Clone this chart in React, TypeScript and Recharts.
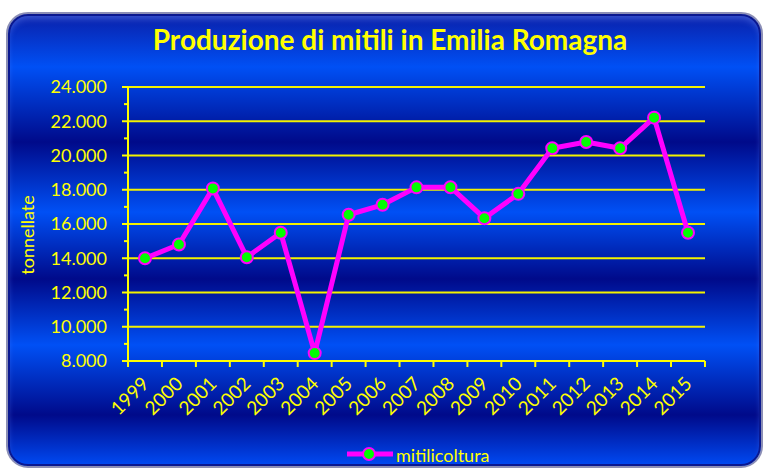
import { LineChart, Line, XAxis, YAxis, CartesianGrid, Legend } from 'recharts';

const YEL = '#ffff00';
const FONT = 'Lato, "Open Sans", sans-serif';

const years = ['1999', '2000', '2001', '2002', '2003', '2004', '2005', '2006', '2007', '2008', '2009', '2010', '2011', '2012', '2013', '2014', '2015'];
const tonnes = [14000, 14800, 18080, 14060, 15490, 8460, 16540, 17120, 18140, 18150, 16340, 17760, 20420, 20790, 20420, 22210, 15490];
const yTicks = [8000, 9000, 10000, 11000, 12000, 13000, 14000, 15000, 16000, 17000, 18000, 19000, 20000, 21000, 22000, 23000, 24000];
const gridValues = [10000, 12000, 14000, 16000, 18000, 20000, 22000, 24000];

const data = years.map((year, i) => ({ year, mitilicoltura: tonnes[i] }));

const fmt = (v: number) => String(v).replace(/\B(?=(\d{3})+(?!\d))/g, '.');

function YTick(props: any) {
  const { x, y, payload } = props;
  const major = payload.value % 2000 === 0;
  return (
    <g>
      <line x1={x - (major ? 6 : 4)} x2={x} y1={y} y2={y} stroke={YEL} strokeWidth={2} />
      {major && (
        <text x={x - 21} y={y} dy="0.35em" textAnchor="end" fill={YEL} fontSize={18} fontFamily={FONT}>
          {fmt(payload.value)}
        </text>
      )}
    </g>
  );
}

function XTick(props: any) {
  const { x, y, payload, index, visibleTicksCount } = props;
  const count = visibleTicksCount || years.length;
  const half = (props.width || 577) / count / 2;
  const tx = x + 5;
  const ty = y + 24;
  return (
    <g>
      <line x1={x - half} x2={x - half} y1={y} y2={y + 6} stroke={YEL} strokeWidth={2} />
      {index === count - 1 && <line x1={x + half} x2={x + half} y1={y} y2={y + 6} stroke={YEL} strokeWidth={2} />}
      <text x={tx} y={ty} textAnchor="end" transform={`rotate(-45, ${tx}, ${ty})`} fill={YEL} fontSize={19} fontFamily={FONT}>
        {payload.value}
      </text>
    </g>
  );
}

function YLabel(props: any) {
  const vb = props.viewBox;
  const cy = vb.y + vb.height / 2 + 11;
  return (
    <text x={34} y={cy} textAnchor="middle" transform={`rotate(-90, 34, ${cy})`} fill={YEL} fontSize={18} fontFamily={FONT}>
      tonnellate
    </text>
  );
}

function LegendContent(props: any) {
  const item = (props.payload || [])[0];
  return (
    <svg width={160} height={26} style={{ display: 'block' }}>
      <line x1={2} x2={48} y1={14} y2={14} stroke="#ff00ff" strokeWidth={5} />
      <circle cx={24} cy={14} r={6} fill="#00ff00" stroke="#ff00ff" strokeWidth={2} />
      <text x={51} y={22} fill={YEL} fontSize={18} fontFamily={FONT}>
        {item ? item.value : 'mitilicoltura'}
      </text>
    </svg>
  );
}

export default function App() {
  return (
    <div style={{ position: 'absolute', left: 0, top: 0, width: 766, height: 468, background: '#fff', overflow: 'hidden' }}>
      <div
        style={{
          position: 'absolute',
          left: 6,
          top: 12,
          width: 757,
          height: 456,
          boxSizing: 'border-box',
          borderRadius: 22,
          border: '2px solid #8c8fb6',
          boxShadow: 'inset 0 0 0 2px #0a1890, inset 0 5px 6px rgba(120,150,255,0.45)',
          background:
            'linear-gradient(180deg, #0a1fa8 0px, #0050f5 53px, #000a8a 128px, #0050f5 198px, #000a8a 265px, #0050f5 331px, #000a8a 401px, #0048f0 450px)',
        }}
      />
      <div
        style={{
          position: 'absolute',
          left: 0,
          top: 25,
          width: 780,
          textAlign: 'center',
          fontFamily: FONT,
          fontWeight: 700,
          fontSize: 28,
          lineHeight: '28px',
          color: YEL,
        }}
      >
        Produzione di mitili in Emilia Romagna
      </div>
      <div style={{ position: 'absolute', left: 0, top: 0 }}>
        <LineChart width={766} height={468} data={data} margin={{ top: 87, right: 61, bottom: 0, left: 0 }}>
          <CartesianGrid vertical={false} horizontalValues={gridValues} stroke="#f2f200" strokeWidth={2} />
          <XAxis
            dataKey="year"
            height={107}
            interval={0}
            padding={{ left: 17, right: 17 }}
            axisLine={{ stroke: YEL, strokeWidth: 2 }}
            tickLine={false}
            tickSize={0}
            tickMargin={0}
            tick={<XTick />}
          />
          <YAxis
            type="number"
            domain={[8000, 24000]}
            ticks={yTicks}
            interval={0}
            width={128}
            axisLine={{ stroke: YEL, strokeWidth: 2 }}
            tickLine={false}
            tickSize={0}
            tickMargin={0}
            tick={<YTick />}
            label={<YLabel />}
          />
          <Legend
            layout="horizontal"
            verticalAlign="middle"
            align="center"
            wrapperStyle={{ top: 440, left: 345, width: 160, height: 26 }}
            content={<LegendContent />}
          />
          <Line
            type="linear"
            dataKey="mitilicoltura"
            name="mitilicoltura"
            stroke="#ff00ff"
            strokeWidth={5}
            strokeLinejoin="round"
            dot={{ r: 6, fill: '#00ff00', stroke: '#ff00ff', strokeWidth: 2 }}
            activeDot={false}
            isAnimationActive={false}
          />
        </LineChart>
      </div>
    </div>
  );
}
